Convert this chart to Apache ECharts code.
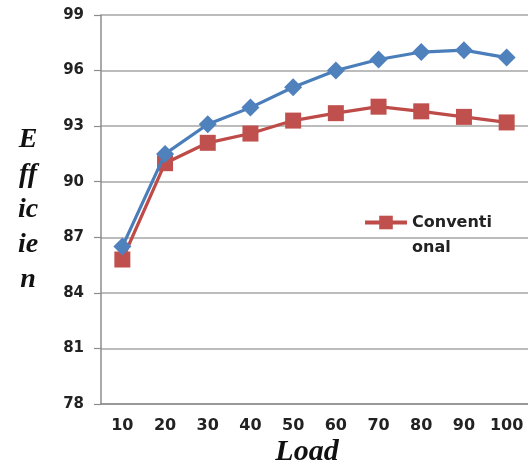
<!DOCTYPE html>
<html><head><meta charset="utf-8">
<script src="https://cdn.jsdelivr.net/npm/echarts@6/dist/echarts.min.js"></script>
<style>html,body{margin:0;padding:0;background:#fff}#c{width:528px;height:468px}</style>
</head><body><div id="c"></div>
<script>
const loads = ['10','20','30','40','50','60','70','80','90','100'];
const proposed = [86.5, 91.5, 93.1, 94.0, 95.1, 96.0, 96.6, 97.0, 97.1, 96.7];
const conventional = [85.8, 91.0, 92.1, 92.6, 93.3, 93.7, 94.05, 93.8, 93.5, 93.2];
const yMin = 78, yMax = 99, yStep = 3;

const chart = echarts.init(document.getElementById('c'));
const tickFont = {fontFamily:'DejaVu Sans', fontWeight:'bold', color:'#222'};
chart.setOption({
  animation:false,
  backgroundColor:'#fff',
  grid:{left:101, top:15, right:0, bottom:64},
  legend:{
    data:['Conventional'], left:358, top:180, padding:5,
    itemWidth:42, itemHeight:17, itemGap:0,
    lineStyle:{width:4},
    formatter:()=> '\u00a0\nConventi\nonal',
    textStyle:{fontFamily:'DejaVu Sans', fontWeight:'bold', fontSize:16, color:'#222', lineHeight:25}
  },
  xAxis:{
    type:'category', data:loads, boundaryGap:true,
    axisLine:{lineStyle:{color:'#8c8c8c', width:1.5}},
    axisTick:{alignWithLabel:true, interval:0, length:5, lineStyle:{color:'#8c8c8c', width:1.2}},
    axisLabel:Object.assign({fontSize:16, margin:14, interval:0}, tickFont),
    splitLine:{show:false}
  },
  yAxis:{
    type:'value', min:yMin, max:yMax, interval:yStep,
    axisLine:{show:true, lineStyle:{color:'#8c8c8c', width:1.5}},
    axisTick:{show:true, length:7, lineStyle:{color:'#8c8c8c', width:1.2}},
    axisLabel:Object.assign({fontSize:15, margin:17}, tickFont),
    splitLine:{lineStyle:{color:'#a6a6a6', width:1.5}}
  },
  graphic:[
    {type:'text', x:28, y:210, style:{text:'E\nff\nic\nie\nn', fontFamily:'Liberation Serif', fontStyle:'italic', fontWeight:'bold', fontSize:28, lineHeight:35, align:'center', verticalAlign:'middle', fill:'#111'}},
    {type:'text', x:307, y:452, style:{text:'Load', fontFamily:'Liberation Serif', fontStyle:'italic', fontWeight:'bold', fontSize:30, align:'center', verticalAlign:'middle', fill:'#111'}}
  ],
  series:[
    {name:'Proposed', type:'line', data:proposed, symbol:'diamond', symbolSize:[18,18],
     lineStyle:{color:'#4A7EBB', width:3.2}, itemStyle:{color:'#4F81BD'}, z:3},
    {name:'Conventional', type:'line', data:conventional, symbol:'rect', symbolSize:16,
     lineStyle:{color:'#BE4B48', width:3.2}, itemStyle:{color:'#C0504D'}, z:2}
  ]
});
</script></body></html>
